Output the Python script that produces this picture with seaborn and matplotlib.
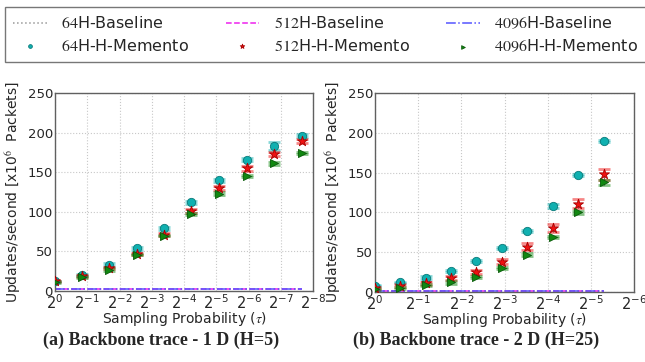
import matplotlib
matplotlib.use("Agg")
import matplotlib.pyplot as plt
from matplotlib.font_manager import FontProperties
import seaborn as sns
import pandas as pd

# ---------------- data ----------------
xticks_left = [0, 1, 2, 3, 4, 5, 6, 7, 8]
xticks_right = [0, 1, 2, 3, 4, 5, 6]
yticks = [0, 50, 100, 150, 200, 250]

left_x = [0, 0.84, 1.68, 2.53, 3.38, 4.23, 5.08, 5.94, 6.79, 7.65]
left_64 = [12, 20, 33, 54, 79, 112, 140, 166, 183, 196]
left_512 = [12, 19, 29, 47, 71, 101, 130, 155, 173, 189]
left_4096 = [11, 18, 27, 46, 70, 97, 123, 145, 161, 174]
left_64_err = [1, 1.5, 2, 2, 2, 2, 2, 2, 5, 2]
left_512_err = [1, 1, 1.5, 1.5, 2, 2.5, 2, 3, 3, 2.5]
left_4096_err = [1, 1, 1.5, 1, 1, 1.5, 1.5, 1.5, 1.5, 1.5]
left_base_64 = [2.2, 2.2, 2.2, 2.2, 2.2, 2.2, 2.2, 2.2, 2.2, 2.2]
left_base_512 = [2.2, 2.2, 2.2, 2.2, 2.2, 2.2, 2.2, 2.2, 2.2, 2.2]
left_base_4096 = [2.2, 2.2, 2.2, 2.2, 2.2, 2.2, 2.2, 2.2, 2.2, 2.2]

right_x = [0, 0.58, 1.17, 1.76, 2.35, 2.94, 3.53, 4.12, 4.71, 5.30]
right_64 = [8, 12, 18, 26, 39, 55, 77, 108, 147, 190]
right_512 = [5, 8, 11, 17, 25, 38, 57, 81, 111, 148]
right_4096 = [4, 5, 9, 12, 19, 30, 47, 69, 100, 138]
right_64_err = [1, 1, 1.5, 1.5, 1.5, 1.5, 1.5, 2, 1.5, 1.5]
right_512_err = [1, 2, 2, 2.5, 3, 3, 4, 5, 6, 7]
right_4096_err = [1, 1.5, 1.5, 1.5, 1.5, 1.5, 1.5, 1.5, 2, 3]
right_base_64 = [1.2, 1.2, 1.2, 1.2, 1.2, 1.2, 1.2, 1.2, 1.2, 1.2]
right_base_512 = [1.2, 1.2, 1.2, 1.2, 1.2, 1.2, 1.2, 1.2, 1.2, 1.2]
right_base_4096 = [1.2, 1.2, 1.2, 1.2, 1.2, 1.2, 1.2, 1.2, 1.2, 1.2]

labels_base = [r"$64$H-Baseline", r"$512$H-Baseline", r"$4096$H-Baseline"]
labels_mem = [r"$64$H-H-Memento", r"$512$H-H-Memento", r"$4096$H-H-Memento"]
captions = ["(a) Backbone trace - 1 D (H=5)", "(b) Backbone trace - 2 D (H=25)"]
xlabel = r"Sampling Probability ($\tau$)"
ylabel = r"Updates/second [x10$^6$  Packets]"

# ---------------- style ----------------
sns.set_style("whitegrid", {"grid.linestyle": ":", "grid.color": "#c8c8c8",
                            "axes.edgecolor": "#606060"})
plt.rcParams["font.family"] = ["DejaVu Sans"]
plt.rcParams["mathtext.fontset"] = "dejavusans"

mem_colors = ["#10b0b0", "#ee1111", "#118811"]
mem_edges = ["#0a7a7a", "#aa0000", "#0a5a0a"]
mem_markers = ["o", "*", ">"]
mem_sizes = [36, 58, 34]
base_colors = ["#999999", "#ee22ee", "#5555ff"]
base_styles = [":", "--", "-."]

fig = plt.figure(figsize=(6.45, 3.62), dpi=100)
ax_l = fig.add_axes([55 / 645, 1 - 291 / 362, 258 / 645, 198 / 362])
ax_r = fig.add_axes([375 / 645, 1 - 292 / 362, 259 / 645, 199 / 362])

panels = [
    (ax_l, left_x, [left_64, left_512, left_4096],
     [left_64_err, left_512_err, left_4096_err],
     [left_base_64, left_base_512, left_base_4096], xticks_left),
    (ax_r, right_x, [right_64, right_512, right_4096],
     [right_64_err, right_512_err, right_4096_err],
     [right_base_64, right_base_512, right_base_4096], xticks_right),
]

label_fp = FontProperties(family="DejaVu Sans", size=10, math_fontfamily="stix")

for ax, xs, mems, errs, bases, xt in panels:
    for i in range(3):
        sns.lineplot(x=xs, y=bases[i], ax=ax, color=base_colors[i],
                     linestyle=base_styles[i], linewidth=1.1, label=labels_base[i],
                     legend=False, zorder=2)
    for i in range(3):
        ax.errorbar(xs, mems[i], yerr=errs[i], fmt="none", ecolor=mem_colors[i],
                    alpha=0.5, capsize=4, capthick=2.0, elinewidth=1.0, zorder=3)
        ax.errorbar(xs, mems[i], yerr=errs[i], fmt="none", ecolor="#333333",
                    alpha=0.6, capsize=0, elinewidth=0.6, zorder=3)
        sns.scatterplot(x=xs, y=mems[i], ax=ax, color=mem_colors[i],
                        marker=mem_markers[i], s=mem_sizes[i],
                        edgecolor=mem_edges[i], linewidth=0.6,
                        label=labels_mem[i], legend=False, zorder=4)
    ax.set_xlim(xt[0], xt[-1])
    ax.set_ylim(0, 250)
    ax.set_xticks(xt)
    ax.set_xticklabels([r"$2^{%d}$" % (-v) for v in xt], fontsize=10.5)
    ax.set_yticks(yticks)
    ax.set_yticklabels([str(v) for v in yticks], fontsize=9.5)
    ax.tick_params(axis="both", pad=1.5, length=0)
    ax.set_xlabel(xlabel, fontproperties=label_fp, labelpad=-1)
    ax.set_ylabel(ylabel, fontproperties=label_fp, labelpad=3)
    for sp in ax.spines.values():
        sp.set_linewidth(1.0)
    ax.grid(True, linewidth=0.8)

# ---------------- legend ----------------
h, l = ax_l.get_legend_handles_labels()
order = []
for i in range(3):
    order.append(l.index(labels_base[i]))
    order.append(l.index(labels_mem[i]))
leg_fp = FontProperties(family="DejaVu Sans", size=11.5, math_fontfamily="stix")
leg = fig.legend([h[k] for k in order], [l[k] for k in order], ncol=3,
                 loc="upper left", bbox_to_anchor=(5 / 645, 1 - 7 / 362),
                 prop=leg_fp, frameon=True, fancybox=False, borderaxespad=0,
                 handlelength=2.1, handletextpad=0.9, columnspacing=2.3,
                 borderpad=0.5, labelspacing=0.38, markerscale=0.45)
leg.get_frame().set_edgecolor("#555555")
leg.get_frame().set_linewidth(1.0)

# ---------------- captions ----------------
for cx, cap in zip([161 / 645, 476 / 645], captions):
    fig.text(cx, 1 - 340 / 362, cap, ha="center", va="center",
             family="Liberation Serif", weight="bold", fontsize=13)

fig.savefig("out.png", dpi=100)
